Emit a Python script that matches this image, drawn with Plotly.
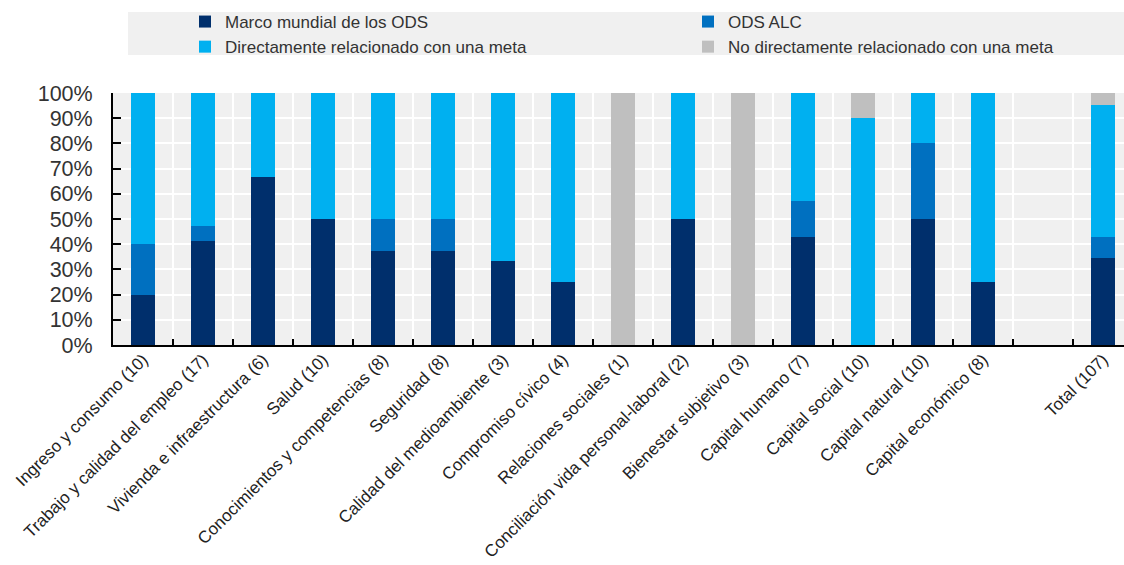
import plotly.graph_objects as go

categories = [
    "Ingreso y consumo (10)",
    "Trabajo y calidad del empleo (17)",
    "Vivienda e infraestructura (6)",
    "Salud (10)",
    "Conocimientos y competencias (8)",
    "Seguridad (8)",
    "Calidad del medioambiente (3)",
    "Compromiso cívico (4)",
    "Relaciones sociales (1)",
    "Conciliación vida personal-laboral (2)",
    "Bienestar subjetivo (3)",
    "Capital humano (7)",
    "Capital social (10)",
    "Capital natural (10)",
    "Capital económico (8)",
    " ",
    "Total (107)",
]

marco_mundial = [20.0, 41.2, 66.7, 50.0, 37.5, 37.5, 33.3, 25.0, 0, 50.0, 0, 42.9, 0, 50.0, 25.0, None, 34.6]
ods_alc = [20.0, 5.9, 0, 0, 12.5, 12.5, 0, 0, 0, 0, 0, 14.3, 0, 30.0, 0, None, 8.4]
directamente = [60.0, 52.9, 33.3, 50.0, 50.0, 50.0, 66.7, 75.0, 0, 50.0, 0, 42.9, 90.0, 20.0, 75.0, None, 52.3]
no_directamente = [0, 0, 0, 0, 0, 0, 0, 0, 100.0, 0, 100.0, 0, 10.0, 0, 0, None, 4.7]

y_ticks = [0, 10, 20, 30, 40, 50, 60, 70, 80, 90, 100]
y_tick_labels = ["0%", "10%", "20%", "30%", "40%", "50%", "60%", "70%", "80%", "90%", "100%"]

series = [
    ("Marco mundial de los ODS", marco_mundial, "#002F6C", "legend"),
    ("ODS ALC", ods_alc, "#0070C0", "legend2"),
    ("Directamente relacionado con una meta", directamente, "#00B0F0", "legend"),
    ("No directamente relacionado con una meta", no_directamente, "#BFBFBF", "legend2"),
]

FONT = "Liberation Sans, Arial, sans-serif"

fig = go.Figure()
for name, vals, color, lg in series:
    fig.add_trace(go.Bar(
        x=categories, y=vals, name=name, width=0.4, legend=lg,
        marker=dict(color=color, line=dict(width=0)),
    ))

W, H = 1124, 565
L, R, T, B = 113, 0, 93, 220
pw = W - L - R
ph = H - T - B

def px2x(px):
    return (px - L) / pw

def py2y(py):
    return (H - B - py) / ph

legend_common = dict(
    orientation="v",
    yanchor="top",
    bgcolor="rgba(0,0,0,0)",
    font=dict(family=FONT, size=17, color="#333333"),
    itemwidth=30,
    tracegroupgap=0,
    traceorder="normal",
)

fig.update_layout(
    barmode="stack",
    width=W, height=H,
    margin=dict(l=L, r=R, t=T, b=B, pad=0),
    paper_bgcolor="white",
    plot_bgcolor="#F0F0F0",
    font=dict(family=FONT, color="#333333"),
    legend=dict(x=px2x(185), xanchor="left", y=py2y(4), **legend_common),
    legend2=dict(x=px2x(688), xanchor="left", y=py2y(4), **legend_common),
    shapes=[dict(
        type="rect", xref="paper", yref="paper", layer="below",
        x0=px2x(128), x1=px2x(1124), y0=py2y(55), y1=py2y(12),
        fillcolor="#F0F0F0", line=dict(width=0),
    )],
    xaxis=dict(
        type="category",
        range=[-0.5, 16.35],
        tickson="boundaries",
        ticks="inside", ticklen=6, tickwidth=2, tickcolor="black",
        showgrid=True, gridcolor="white", gridwidth=2,
        showline=True, linecolor="black", linewidth=2,
        tickangle=-45,
        automargin=False,
        ticklabelstandoff=-4,
        tickfont=dict(family=FONT, size=17, color="#222222"),
    ),
    yaxis=dict(
        range=[0, 100],
        tickmode="array",
        tickvals=y_ticks,
        ticktext=y_tick_labels,
        ticks="inside", ticklen=8, tickwidth=2, tickcolor="black",
        showgrid=True, gridcolor="white", gridwidth=2,
        showline=True, linecolor="black", linewidth=2,
        zeroline=False,
        automargin=False,
        tickfont=dict(family=FONT, size=21.5, color="#333333"),
        ticklabelstandoff=14,
    ),
)

fig.write_html("out.html")
